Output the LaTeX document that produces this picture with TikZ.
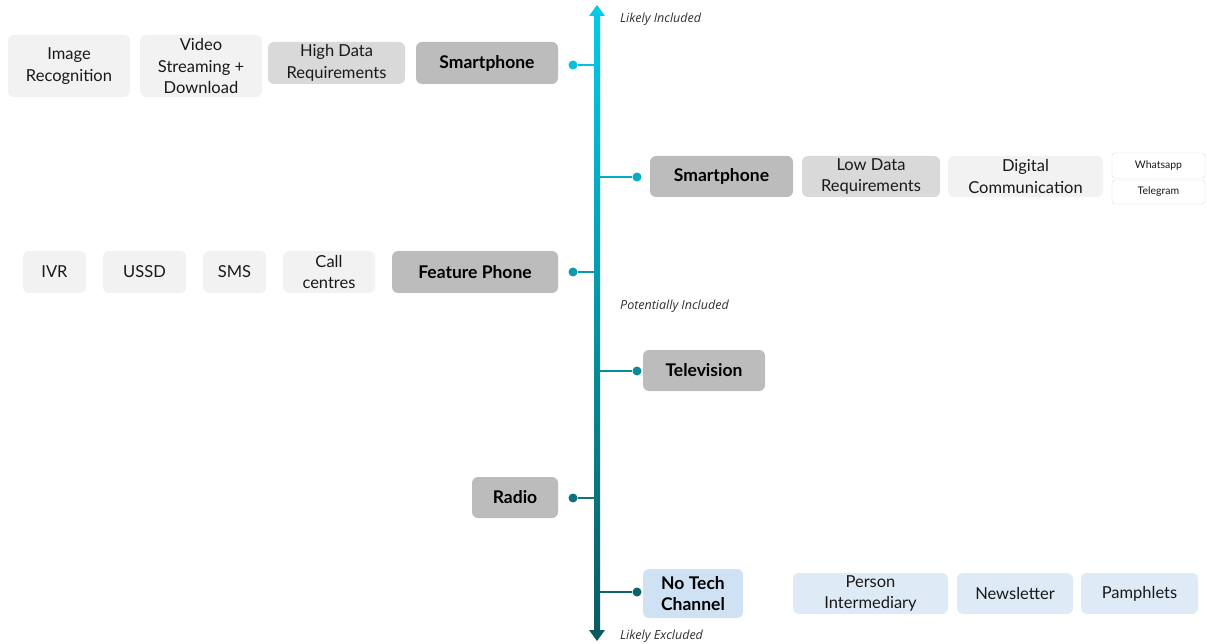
\documentclass[tikz,border=0pt]{standalone}
\usepackage{fontspec}
\setmainfont{Lato}
\newfontfamily\notefont{Open Sans}
\definecolor{axtop}{HTML}{00CCE6}
\definecolor{axbot}{HTML}{0E5A61}
\definecolor{greyA}{HTML}{F2F2F2}
\definecolor{greyB}{HTML}{D9D9D9}
\definecolor{greyC}{HTML}{BCBCBC}
\definecolor{blueA}{HTML}{CFE2F3}
\definecolor{blueB}{HTML}{DEEBF7}
\definecolor{notecol}{HTML}{303030}
\colorlet{cA}{axbot!9!axtop}
\colorlet{cB}{axbot!27!axtop}
\colorlet{cC}{axbot!42!axtop}
\colorlet{cD}{axbot!57!axtop}
\colorlet{cE}{axbot!78!axtop}
\colorlet{cF}{axbot!92!axtop}
\begin{document}
\begin{tikzpicture}[x=1pt,y=-1pt,
  box/.style={rounded corners=6pt, inner sep=1pt, align=center, text=black!90,
    font=\fontsize{16.5}{21.5}\selectfont},
  boxa/.style={box, fill=greyA},
  boxb/.style={box, fill=greyB},
  boxc/.style={box, fill=greyC, font=\fontsize{17.5}{21.5}\selectfont\bfseries, text=black},
  boxn/.style={box, fill=blueA, font=\fontsize{17.5}{21.5}\selectfont\bfseries, text=black},
  boxl/.style={box, fill=blueB},
  tag/.style={box, fill=white, draw=black!14, rounded corners=3pt,
    font=\fontsize{10.5}{11}\selectfont},
  note/.style={anchor=west, inner sep=0pt, text=notecol,
    font=\notefont\itshape\fontsize{12.5}{14}\selectfont},
  dot/.style={circle, inner sep=0pt, minimum size=9pt},
  link/.style={line width=1.6pt}]
\useasboundingbox (0,0) rectangle (1207,644);

% axis with colour gradient and arrow heads
\shade[top color=axtop, bottom color=axbot] (594,14) rectangle (600,630);
\fill[axtop] (597,5) -- (605,16) -- (589,16) -- cycle;
\fill[axbot] (597,641) -- (605,630) -- (589,630) -- cycle;
\node[note] (lin) at (620,19) {Likely Included};
\node[note] (pin) at (620,306) {Potentially Included};
\node[note] (lex) at (620,636) {Likely Excluded};

% axis attachment points
\coordinate (a1) at (597,65);
\coordinate (a2) at (597,177);
\coordinate (a3) at (597,272);
\coordinate (a4) at (597,371);
\coordinate (a5) at (597,498);
\coordinate (a6) at (597,592);

% row 1: smartphone, high data
\node[boxa, minimum width=122pt, minimum height=62pt] (imgrec) at (69,66) {Image\\Recognition};
\node[boxa, minimum width=122pt, minimum height=62pt] (video) at (201,66) {Video\\Streaming +\\Download};
\node[boxb, minimum width=137pt, minimum height=42pt] (highdata) at (336.5,63) {High Data\\Requirements};
\node[boxc, minimum width=142pt, minimum height=42pt] (smart1) at (487,63) {Smartphone};
\node[dot, fill=cA] (d1) at (573,65) {};
\draw[link, cA] (d1) -- (a1);

% row 2: smartphone, low data
\node[dot, fill=cB] (d2) at (637,177) {};
\draw[link, cB] (d2) -- (a2);
\node[boxc, minimum width=143pt, minimum height=41pt] (smart2) at (721.5,176.5) {Smartphone};
\node[boxb, minimum width=138pt, minimum height=41pt] (lowdata) at (871,176.5) {Low Data\\Requirements};
\node[boxa, minimum width=155pt, minimum height=41pt] (digcom) at (1025.5,176.5) {Digital\\Communication};
\node[tag, minimum width=93pt, minimum height=25pt] (whats) at (1158.5,165.5) {Whatsapp};
\node[tag, minimum width=93pt, minimum height=24pt] (teleg) at (1158.5,192) {Telegram};

% row 3: feature phone
\node[boxa, minimum width=63pt, minimum height=42pt] (ivr) at (54.5,272) {IVR};
\node[boxa, minimum width=83pt, minimum height=42pt] (ussd) at (144.5,272) {USSD};
\node[boxa, minimum width=63pt, minimum height=42pt] (sms) at (234.5,272) {SMS};
\node[boxa, minimum width=92pt, minimum height=42pt] (call) at (329,272) {Call\\centres};
\node[boxc, minimum width=166pt, minimum height=42pt] (feat) at (475,272) {Feature Phone};
\node[dot, fill=cC] (d3) at (573,272) {};
\draw[link, cC] (d3) -- (a3);

% row 4: television
\node[dot, fill=cD] (d4) at (637,371) {};
\draw[link, cD] (d4) -- (a4);
\node[boxc, minimum width=122pt, minimum height=41pt] (tv) at (704,370.5) {Television};

% row 5: radio
\node[boxc, minimum width=86pt, minimum height=41pt] (radio) at (515,497.5) {Radio};
\node[dot, fill=cE] (d5) at (573,498) {};
\draw[link, cE] (d5) -- (a5);

% row 6: no tech channel
\node[dot, fill=cF] (d6) at (637,592) {};
\draw[link, cF] (d6) -- (a6);
\node[boxn, minimum width=100pt, minimum height=49pt] (notech) at (693,593.5) {No Tech\\Channel};
\node[boxl, minimum width=155pt, minimum height=41pt] (person) at (870.5,593.5) {Person\\Intermediary};
\node[boxl, minimum width=116pt, minimum height=41pt] (news) at (1015,593.5) {Newsletter};
\node[boxl, minimum width=117pt, minimum height=41pt] (pamph) at (1139.5,593.5) {Pamphlets};
\end{tikzpicture}
\end{document}
